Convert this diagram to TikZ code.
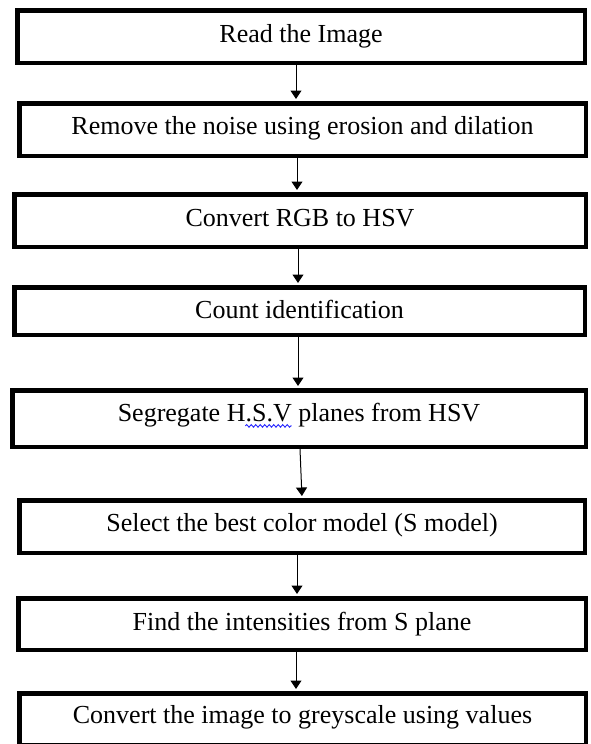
\documentclass[tikz,border=0pt]{standalone}
\usepackage{fontspec}
\setmainfont{Liberation Serif}
\usetikzlibrary{arrows.meta,decorations.pathmorphing}
\newcommand\stepfont{\fontsize{26}{31}\selectfont}
\newlength\wavestart
\newlength\wavelen
\tikzset{
  stepbox/.style={draw=black, line width=4.5pt, rectangle, inner sep=0pt},
  steptext/.style={inner sep=0pt, text height=17.2pt, text depth=0pt,
    font=\stepfont},
  flow/.style={draw=black, line width=1pt,
    -{Triangle[width=11pt,length=8.5pt]}, shorten >=2pt},
  spellwave/.style={draw=blue!85, line width=0.9pt, decorate,
    decoration={snake, amplitude=1.3pt, segment length=4.5pt}}
}
% box from outer left/top/right/bottom (in pt, y downward)
\newcommand\flowbox[5]{%
  \node[stepbox, minimum width={#4-#2-4.5pt}, minimum height={#5-#3-4.5pt}]
    (#1) at ({(#2+#4)/2},{(#3+#5)/2}) {};}
\begin{document}
% offsets of the wavy underline under "H.S.V"
\settowidth{\wavestart}{\stepfont Segregate\ H}
\settowidth{\wavelen}{\stepfont .S.V}
\begin{tikzpicture}[x=1pt,y=-1pt]
\useasboundingbox (0,0) rectangle (590,744);
\begin{scope}
\clip (0,0) rectangle (590,744);
\flowbox{b1}{15}{8}{587}{65}
\flowbox{b2}{17}{101}{588}{158}
\flowbox{b3}{12}{192}{588}{249}
\flowbox{b4}{12}{285}{587}{337}
\flowbox{b5}{10}{388}{588}{449}
\flowbox{b6}{17}{498}{587}{555}
\flowbox{b7}{16}{596}{588}{652}
\flowbox{b8}{17}{691}{588}{747}
\end{scope}

\node[steptext] (t1) at (301,34.3) {Read the Image};
\node[steptext] (t2) at (302.5,125.8) {Remove the noise using erosion and dilation};
\node[steptext] (t3) at (300,218.3) {Convert RGB to HSV};
\node[steptext] (t4) at (299.5,310) {Count identification};
\node[steptext] (t5) at (299,413.3) {Segregate H.S.V planes from HSV};
\node[steptext] (t6) at (302,523.3) {Select the best color model (S model)};
\node[steptext] (t7) at (302,622) {Find the intensities from S plane};
\node[steptext] (t8) at (302.5,715) {Convert the image to greyscale using values};

\draw[spellwave] ([xshift=\wavestart, yshift=-4pt]t5.base west) -- ++(\wavelen,0);

\draw[flow] ([xshift=-5pt]b1.south) -- ([xshift=-5pt]b1.south |- b2.north);
\draw[flow] ([xshift=-5.5pt]b2.south) -- ([xshift=-5.5pt]b2.south |- b3.north);
\draw[flow] ([xshift=-2pt]b3.south) -- ([xshift=-2pt]b3.south |- b4.north);
\draw[flow] ([xshift=-1.5pt]b4.south) -- ([xshift=-1.5pt]b4.south |- b5.north);
\draw[flow] ([xshift=1pt]b5.south) -- ([xshift=3pt]b5.south |- b6.north);
\draw[flow] ([xshift=-5pt]b6.south) -- ([xshift=-5pt]b6.south |- b7.north);
\draw[flow] ([xshift=-6pt]b7.south) -- ([xshift=-6pt]b7.south |- b8.north);
\end{tikzpicture}
\end{document}
